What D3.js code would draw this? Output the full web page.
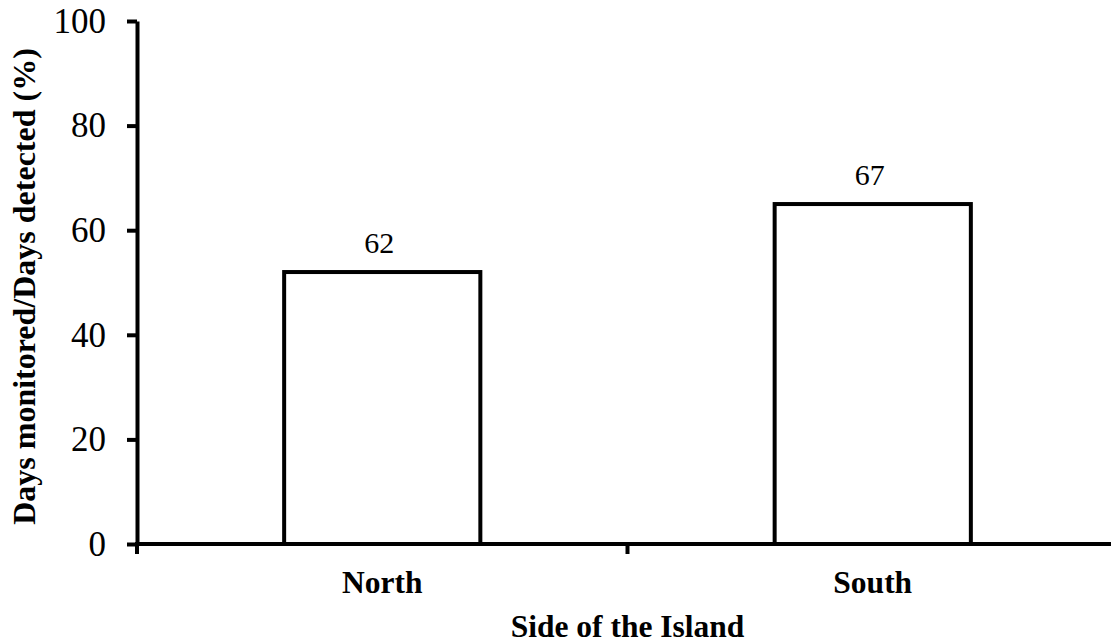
<!DOCTYPE html>
<html>
<head>
<meta charset="utf-8">
<script src="https://cdn.jsdelivr.net/npm/d3@7"></script>
<style>
  html, body { margin: 0; padding: 0; background: #fff; }
  svg { display: block; }
  text { font-family: "Liberation Serif", "Times New Roman", serif; fill: #000; }
</style>
</head>
<body>
<script>
// ---- data ----
const categories = ["North", "South"];
const barValues = [52, 65];          // bar heights as drawn
const barLabels = ["62", "67"];      // labels printed above the bars
const yTicks = [0, 20, 40, 60, 80, 100];
const xTitle = "Side of the Island";
const yTitle = "Days monitored/Days detected (%)";

const W = 1111, H = 643;
const mLeft = 137, mRight = 1118, mTop = 21, mBottom = 544;

const svg = d3.select("body").append("svg").attr("width", W).attr("height", H);

const x = d3.scaleBand().domain(categories).range([mLeft, mRight])
  .paddingInner(0.6).paddingOuter(0.3);
const y = d3.scaleLinear().domain([0, 100]).range([mBottom, mTop]);

// bars
svg.selectAll("rect.bar").data(categories).enter().append("rect")
  .attr("class", "bar")
  .attr("x", d => x(d))
  .attr("width", x.bandwidth())
  .attr("y", (d, i) => y(barValues[i]))
  .attr("height", (d, i) => y(0) - y(barValues[i]))
  .attr("fill", "#fff")
  .attr("stroke", "#000")
  .attr("stroke-width", 4);

// bar labels
svg.selectAll("text.lab").data(categories).enter().append("text")
  .attr("class", "lab")
  .attr("x", d => x(d) + x.bandwidth() / 2 - 3)
  .attr("y", (d, i) => y(barValues[i]) - 19)
  .attr("text-anchor", "middle")
  .style("font-size", "30px")
  .text((d, i) => barLabels[i]);

// y axis
const yAxis = svg.append("g").attr("transform", `translate(${mLeft},0)`)
  .call(d3.axisLeft(y).tickValues(yTicks).tickSize(10).tickSizeOuter(0).tickPadding(21));
yAxis.select(".domain").attr("stroke-width", 4).attr("stroke", "#000");
yAxis.selectAll(".tick line").attr("stroke-width", 4).attr("stroke", "#000");
yAxis.selectAll(".tick text").style("font-size", "35px")
  .style("font-family", "'Liberation Serif', 'Times New Roman', serif");

// x axis line
svg.append("line")
  .attr("x1", mLeft - 2).attr("x2", mRight)
  .attr("y1", y(0)).attr("y2", y(0))
  .attr("stroke", "#000").attr("stroke-width", 4);

// x ticks at band boundaries
const bounds = [x.range()[0]].concat(categories.map(d => x(d) - x.step() * x.paddingInner() / 2 + x.step()));
svg.selectAll("line.xt").data(bounds).enter().append("line")
  .attr("class", "xt")
  .attr("x1", d => d).attr("x2", d => d)
  .attr("y1", y(0)).attr("y2", y(0) + 10)
  .attr("stroke", "#000").attr("stroke-width", 4);

// category labels
svg.selectAll("text.cat").data(categories).enter().append("text")
  .attr("class", "cat")
  .attr("x", d => x(d) + x.bandwidth() / 2)
  .attr("y", 593)
  .attr("text-anchor", "middle")
  .style("font-size", "31.5px")
  .style("font-weight", "bold")
  .text(d => d);

// axis titles
svg.append("text")
  .attr("x", (mLeft + mRight) / 2)
  .attr("y", 637)
  .attr("text-anchor", "middle")
  .style("font-size", "31.5px")
  .style("font-weight", "bold")
  .text(xTitle);

svg.append("text")
  .attr("transform", `translate(35,${(mTop + mBottom) / 2 + 4}) rotate(-90)`)
  .attr("text-anchor", "middle")
  .style("font-size", "32px")
  .style("font-weight", "bold")
  .text(yTitle);
</script>
</body>
</html>
